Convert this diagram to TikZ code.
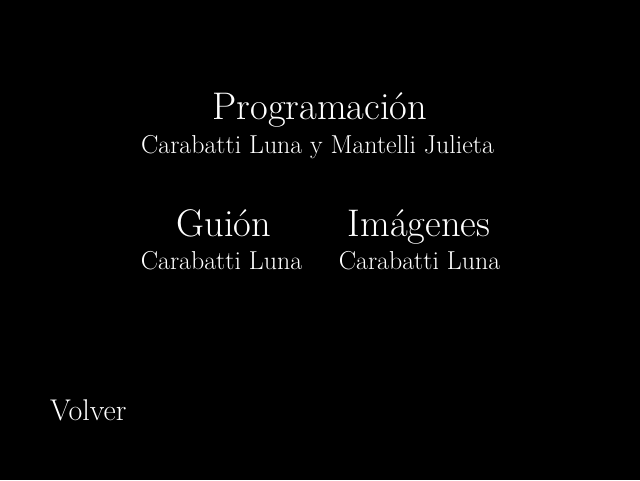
\documentclass[tikz,border=0pt]{standalone}
\usepackage{fontspec}
\usepackage{tikz}
\usetikzlibrary{positioning}

\begin{document}
\begin{tikzpicture}[x=1pt,y=-1pt,inner sep=0pt,text=white]

  \tikzstyle{heading} = [font=\fontsize{38.5}{44}\selectfont, anchor=base]
  \tikzstyle{credit}  = [font=\fontsize{25.9}{30}\selectfont, anchor=base]

  \fill[black] (0,0) rectangle (640,480);
  \useasboundingbox (0,0) rectangle (640,480);

  \node[heading] (prog)      at (320,119)   {Programación};
  \node[credit]  (prognames) at (317.5,153) {Carabatti Luna y Mantelli Julieta};
  \node[heading] (guion)     at (224,236)   {Guión};
  \node[credit]  (guionnames) at (221.5,269) {Carabatti Luna};
  \node[heading] (img)       at (419,236)   {Imágenes};
  \node[credit]  (imgnames)  at (419.5,269) {Carabatti Luna};
  \node[credit, font=\fontsize{30}{34}\selectfont, anchor=base west] (back) at (50,420) {Volver};

\end{tikzpicture}
\end{document}
